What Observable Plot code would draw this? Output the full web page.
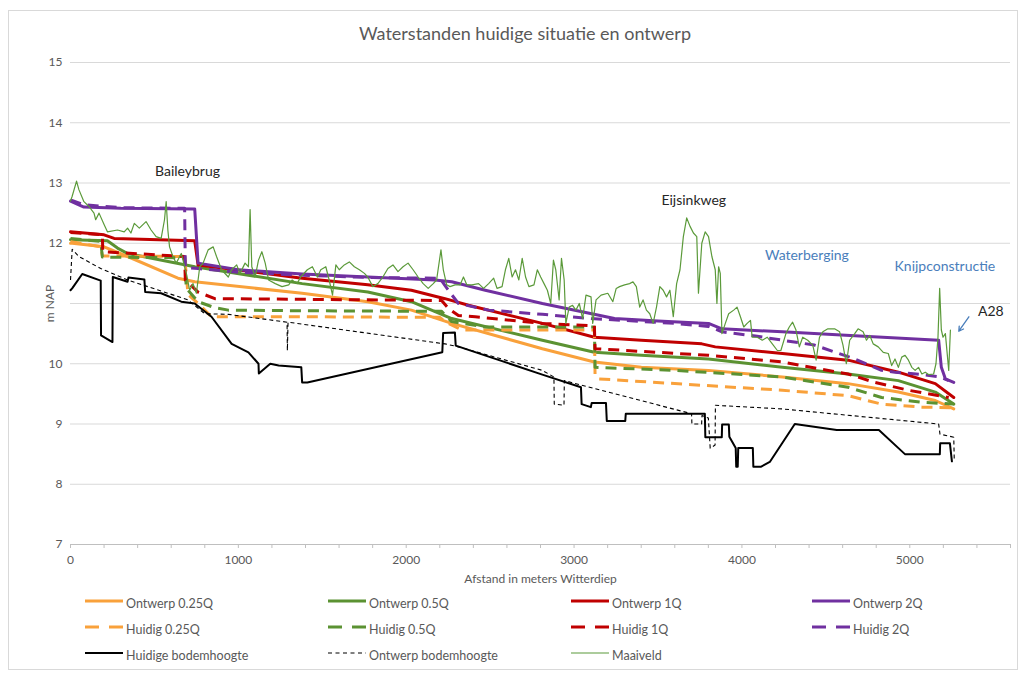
<!DOCTYPE html>
<html>
<head>
<meta charset="utf-8">
<script src="https://cdn.jsdelivr.net/npm/d3@7"></script>
<script src="https://cdn.jsdelivr.net/npm/@observablehq/plot@0.6"></script>
<style>
  html, body { margin: 0; padding: 0; background: #fff; }
  body { width: 1025px; height: 677px; position: relative; overflow: hidden; font-family: Lato, "Open Sans", sans-serif; }
  #frame { position: absolute; left: 8px; top: 10px; width: 1008px; height: 658px; border: 1px solid #d9d9d9; }
  #title { position: absolute; left: 0; top: 22px; width: 1050px; text-align: center; font-size: 18px; color: #595959; }
  #chart { position: absolute; left: 0; top: 0; }
  .leg { position: absolute; font-size: 12.5px; color: #595959; white-space: nowrap; }
  .leg svg { position: absolute; left: 0; top: 0; }
  .leg span { position: absolute; left: 41px; top: -8px; }
</style>
</head>
<body>
<div id="frame"></div>
<div id="chart"></div>
<div id="title">Waterstanden huidige situatie en ontwerp</div>
<div id="legend"></div>
<script>
// ---- data (distance in m, level in m NAP) ----
const ontwerp025 = [[0,12.0],[10,12.0],[200,11.94],[340,11.78],[640,11.42],[740,11.36],[1380,11.17],[1771,11.03],[2031,10.89],[2271,10.67],[2811,10.25],[3121,10.03],[3401,9.94],[3801,9.89],[4241,9.78],[4632,9.67],[4932,9.53],[5152,9.39],[5262,9.25]];
const ontwerp05 = [[0,12.06],[220,12.04],[280,11.92],[340,11.83],[740,11.61],[1380,11.33],[1771,11.19],[2031,11.03],[2271,10.75],[2811,10.39],[3121,10.19],[3401,10.14],[3801,10.08],[4241,9.94],[4632,9.83],[4932,9.72],[5152,9.53],[5262,9.33]];
const ontwerp1 = [[0,12.19],[200,12.14],[260,12.08],[740,12.04],[760,11.64],[1380,11.42],[1771,11.31],[2031,11.22],[2231,11.08],[2371,10.97],[2811,10.67],[3121,10.44],[3401,10.39],[3761,10.33],[3841,10.28],[4241,10.17],[4632,10.06],[4932,9.86],[5152,9.67],[5262,9.44]];
const ontwerp2 = [[0,12.70],[80,12.60],[300,12.58],[740,12.57],[760,11.67],[1000,11.56],[1380,11.49],[1771,11.44],[2171,11.39],[2271,11.36],[2471,11.22],[2811,11.0],[3241,10.75],[3500,10.71],[3801,10.67],[3881,10.58],[4241,10.53],[4700,10.46],[5172,10.39],[5188,9.94],[5212,9.75],[5262,9.69]];
const huidig025 = [[0,12.03],[180,11.94],[190,11.79],[680,11.78],[700,11.15],[760,11.0],[840,10.78],[1380,10.78],[2200,10.77],[2231,10.70],[2331,10.56],[3121,10.56],[3125,9.83],[3141,9.75],[4241,9.56],[4632,9.47],[4832,9.33],[5072,9.28],[5262,9.27]];
const huidig05 = [[0,12.08],[180,12.03],[190,11.77],[680,11.76],[690,11.25],[760,11.03],[860,10.93],[940,10.89],[1380,10.88],[2211,10.87],[2271,10.70],[2471,10.61],[3121,10.61],[3125,9.94],[3601,9.89],[4241,9.78],[4632,9.61],[4832,9.44],[5072,9.36],[5262,9.33]];
const huidig1 = [[0,12.18],[190,12.14],[192,11.86],[680,11.78],[684,11.39],[760,11.19],[860,11.08],[1380,11.07],[2211,11.05],[2251,10.92],[2311,10.80],[2411,10.78],[2811,10.67],[3121,10.63],[3125,10.25],[3801,10.14],[4241,10.03],[4632,9.83],[4792,9.69],[4992,9.56],[5232,9.44]];
const huidig2 = [[0,12.72],[80,12.64],[300,12.59],[680,12.58],[684,11.6],[760,11.58],[1000,11.52],[1380,11.47],[1800,11.43],[2200,11.42],[2251,11.22],[2311,11.0],[2491,10.89],[2811,10.82],[3101,10.75],[3601,10.67],[3800,10.62],[3881,10.53],[4081,10.46],[4312,10.36],[4432,10.31],[4672,10.08],[4832,9.89],[4912,9.86],[5072,9.82],[5180,9.78],[5232,9.72]];
const huidigeBodem = [[0,11.22],[10,11.25],[70,11.49],[180,11.38],[182,10.47],[250,10.36],[252,11.44],[340,11.36],[345,11.43],[440,11.40],[445,11.19],[540,11.17],[660,11.03],[740,11.0],[840,10.78],[960,10.33],[1060,10.19],[1120,10.0],[1122,9.84],[1190,10.0],[1240,9.97],[1375,9.94],[1380,9.69],[1411,9.69],[2215,10.19],[2220,10.51],[2290,10.52],[2295,10.30],[2811,9.82],[3041,9.61],[3045,9.33],[3100,9.28],[3105,9.35],[3190,9.35],[3195,9.05],[3305,9.05],[3308,9.17],[3779,9.17],[3782,8.78],[3880,8.78],[3882,8.99],[3922,8.99],[3925,8.79],[3963,8.6],[3966,8.29],[3975,8.29],[3978,8.6],[4065,8.6],[4068,8.29],[4112,8.29],[4166,8.37],[4315,9.0],[4565,8.9],[4816,8.9],[4971,8.5],[5179,8.5],[5181,8.68],[5239,8.68],[5251,8.38]];
const ontwerpBodem = [[0,11.39],[10,11.9],[50,11.78],[180,11.58],[340,11.39],[700,11.06],[800,10.83],[940,10.82],[1290,10.69],[1292,10.22],[1296,10.69],[2231,10.33],[2311,10.28],[2811,9.89],[2880,9.78],[2882,9.33],[2940,9.31],[2942,9.72],[3700,9.17],[3702,9.0],[3760,9.0],[3762,9.14],[3800,9.1],[3811,8.6],[3840,8.65],[3842,9.31],[4241,9.25],[5172,9.0],[5180,8.83],[5232,8.8],[5262,8.78],[5265,8.4]];
const maaiveld = [[0,12.7],[10,12.78],[36,13.03],[50,12.89],[80,12.69],[110,12.61],[140,12.5],[150,12.39],[170,12.5],[200,12.31],[220,12.19],[280,12.22],[320,12.19],[340,12.25],[360,12.17],[380,12.33],[410,12.25],[450,12.36],[480,12.22],[510,12.11],[540,12.08],[560,12.39],[570,12.69],[580,12.22],[590,11.94],[610,11.78],[630,11.67],[660,11.83],[690,11.5],[710,11.22],[730,11.33],[750,11.17],[770,11.61],[790,11.67],[820,11.89],[850,11.94],[870,11.78],[900,11.56],[940,11.44],[960,11.56],[990,11.64],[1010,11.5],[1040,11.67],[1060,11.61],[1070,12.56],[1080,11.61],[1100,11.44],[1120,11.72],[1140,11.86],[1160,11.67],[1180,11.39],[1220,11.33],[1260,11.28],[1300,11.31],[1320,11.39],[1350,11.33],[1371,11.44],[1411,11.56],[1441,11.61],[1471,11.44],[1491,11.56],[1521,11.61],[1541,11.39],[1561,11.14],[1581,11.64],[1601,11.56],[1631,11.64],[1661,11.69],[1691,11.61],[1721,11.56],[1751,11.5],[1771,11.44],[1801,11.28],[1831,11.33],[1861,11.44],[1891,11.58],[1921,11.64],[1951,11.53],[1981,11.61],[2011,11.67],[2041,11.56],[2071,11.44],[2101,11.33],[2131,11.25],[2161,11.33],[2181,11.39],[2207,11.89],[2221,11.56],[2241,11.31],[2261,11.28],[2291,11.31],[2321,11.31],[2341,11.44],[2361,11.31],[2391,11.31],[2431,11.33],[2461,11.25],[2491,11.33],[2521,11.42],[2541,11.25],[2571,11.28],[2591,11.56],[2611,11.75],[2631,11.44],[2651,11.56],[2671,11.39],[2691,11.75],[2711,11.44],[2731,11.28],[2761,11.31],[2781,11.56],[2801,11.44],[2821,11.33],[2841,11.22],[2861,11.0],[2877,11.72],[2891,11.56],[2911,11.06],[2925,11.75],[2941,11.39],[2951,10.67],[2971,10.94],[2991,10.97],[3011,10.89],[3031,11.0],[3051,10.75],[3071,11.14],[3101,11.11],[3111,10.67],[3131,11.06],[3161,11.14],[3201,11.17],[3231,11.03],[3251,11.25],[3271,11.28],[3301,11.31],[3331,11.33],[3351,11.36],[3371,11.28],[3391,10.94],[3411,11.06],[3431,10.89],[3451,10.83],[3471,10.67],[3491,10.94],[3511,11.28],[3531,11.22],[3551,11.11],[3571,11.22],[3591,10.78],[3611,11.33],[3631,11.56],[3651,12.11],[3671,12.42],[3691,12.28],[3711,12.17],[3731,12.11],[3741,11.17],[3761,12.0],[3781,12.19],[3801,12.11],[3821,11.78],[3841,11.56],[3851,11.0],[3861,11.61],[3871,11.5],[3881,10.5],[3901,10.67],[3921,10.83],[3951,10.89],[3971,10.94],[3991,10.78],[4011,10.61],[4031,10.67],[4051,10.72],[4061,10.44],[4091,10.44],[4121,10.39],[4151,10.44],[4181,10.33],[4211,10.22],[4232,10.22],[4262,10.5],[4282,10.61],[4302,10.69],[4322,10.56],[4342,10.28],[4362,10.44],[4392,10.39],[4422,10.31],[4442,10.06],[4462,10.44],[4482,10.53],[4512,10.58],[4552,10.58],[4582,10.53],[4602,10.31],[4622,10.0],[4642,10.39],[4672,10.5],[4692,10.58],[4722,10.53],[4742,10.39],[4762,10.47],[4782,10.33],[4812,10.28],[4842,10.19],[4872,10.17],[4892,9.97],[4912,10.08],[4932,9.94],[4952,10.11],[4972,10.14],[4992,10.06],[5012,9.94],[5032,9.89],[5052,9.94],[5072,9.83],[5092,9.86],[5112,9.82],[5142,9.83],[5156,10.0],[5168,10.44],[5178,11.25],[5188,10.56],[5198,10.44],[5212,10.5],[5232,9.89],[5242,10.56]];

const xTicks = [0, 1000, 2000, 3000, 4000, 5000];
const xMinorTicks = [0, 200, 400, 600, 800, 1000, 1200, 1400, 1600, 1800, 2000, 2200, 2400, 2600, 2800, 3000, 3200, 3400, 3600, 3800, 4000, 4200, 4400, 4600, 4800, 5000, 5200, 5400, 5600];
const yTicks = [7, 8, 9, 10, 11, 12, 13, 14, 15];

const annoText = ["Baileybrug", "Eijsinkweg", "Waterberging", "Knijpconstructie", "A28"];
const annoX = [697, 3713, 4387, 5209, 5483];
const annoY = [13.19, 12.71, 11.80, 11.61, 10.87];
const annoColor = ["#262626", "#262626", "#4a7ebb", "#4a7ebb", "#262626"];
const arrowFrom = [5352, 10.78];
const arrowTo = [5292, 10.54];

// ---- styling ----
const seriesStyles = [
  {name: "Ontwerp 0.25Q", data: ontwerp025, color: "#f9a13b", width: 3, dash: null},
  {name: "Ontwerp 0.5Q", data: ontwerp05, color: "#5b9232", width: 3, dash: null},
  {name: "Ontwerp 1Q", data: ontwerp1, color: "#c00000", width: 3, dash: null},
  {name: "Ontwerp 2Q", data: ontwerp2, color: "#7030a0", width: 3, dash: null},
  {name: "Huidig 0.25Q", data: huidig025, color: "#f9a13b", width: 3, dash: "11,7"},
  {name: "Huidig 0.5Q", data: huidig05, color: "#5b9232", width: 3, dash: "11,7"},
  {name: "Huidig 1Q", data: huidig1, color: "#c00000", width: 3, dash: "11,7"},
  {name: "Huidig 2Q", data: huidig2, color: "#7030a0", width: 3, dash: "11,7"},
  {name: "Huidige bodemhoogte", data: huidigeBodem, color: "#000000", width: 2, dash: null},
  {name: "Ontwerp bodemhoogte", data: ontwerpBodem, color: "#000000", width: 1.1, dash: "4,3"},
  {name: "Maaiveld", data: maaiveld, color: "#5b9a3a", width: 1.2, dash: null}
];

const annotations = annoText.map((t, i) => ({t, x: annoX[i], y: annoY[i], c: annoColor[i]}));

const lineMarks = seriesStyles.map(s => Plot.line(s.data, {
  x: d => d[0], y: d => d[1], stroke: s.color, strokeWidth: s.width,
  strokeDasharray: s.dash, strokeLinecap: s.dash ? "butt" : "round", strokeLinejoin: "round"
}));

const chart = Plot.plot({
  width: 1025,
  height: 600,
  marginTop: 62,
  marginBottom: 56,
  marginLeft: 70,
  marginRight: 15,
  style: {fontFamily: "Lato, 'Open Sans', sans-serif", fontSize: "12px", color: "#595959", background: "transparent"},
  x: {domain: [0, 5600]},
  y: {domain: [7, 15]},
  marks: [
    Plot.ruleY(yTicks.filter(v => v > 7), {stroke: "#d9d9d9", strokeWidth: 1}),
    Plot.ruleY([7], {stroke: "#bfbfbf", strokeWidth: 1}),
    Plot.axisX(xMinorTicks, {tickSize: 4, stroke: "#bfbfbf", tickFormat: () => "", label: null}),
    Plot.axisX(xTicks, {tickSize: 0, tickPadding: 11, fontSize: 12, tickFormat: d => String(d), label: "Afstand in meters Witterdiep", labelAnchor: "center", labelOffset: 38, labelArrow: false}),
    Plot.axisY(yTicks, {tickSize: 0, tickPadding: 8, fontSize: 12, tickFormat: d => d === 11 ? "" : String(d), label: "m NAP", labelAnchor: "center", labelOffset: 25, labelArrow: false}),
    ...lineMarks,
    Plot.text(annotations, {x: "x", y: "y", text: "t", fill: "c", fontSize: 14}),
    Plot.arrow([{x1: arrowFrom[0], y1: arrowFrom[1], x2: arrowTo[0], y2: arrowTo[1]}], {x1: "x1", y1: "y1", x2: "x2", y2: "y2", stroke: "#4a7ebb", strokeWidth: 1.3, headLength: 6})
  ]
});
document.getElementById("chart").appendChild(chart);

// ---- legend ----
const legCols = [85, 328, 571, 812];
const legRows = [604, 630, 656];
const legend = document.getElementById("legend");
seriesStyles.forEach((s, i) => {
  const col = i < 8 ? i % 4 : i - 8;
  const row = i < 4 ? 0 : i < 8 ? 1 : 2;
  const div = document.createElement("div");
  div.className = "leg";
  div.style.left = legCols[col] + "px";
  div.style.top = legRows[row] + "px";
  let dash = null;
  if (s.dash === "11,7") dash = "14,10";
  else if (s.dash) dash = "4,3.5";
  div.innerHTML = `<svg width="40" height="6" style="top:-3px;overflow:visible"><line x1="0" x2="38" y1="0" y2="0" stroke="${s.color}" stroke-width="${s.width}" ${dash ? `stroke-dasharray="${dash}"` : ""}/></svg><span>${s.name}</span>`;
  legend.appendChild(div);
});
</script>
</body>
</html>
